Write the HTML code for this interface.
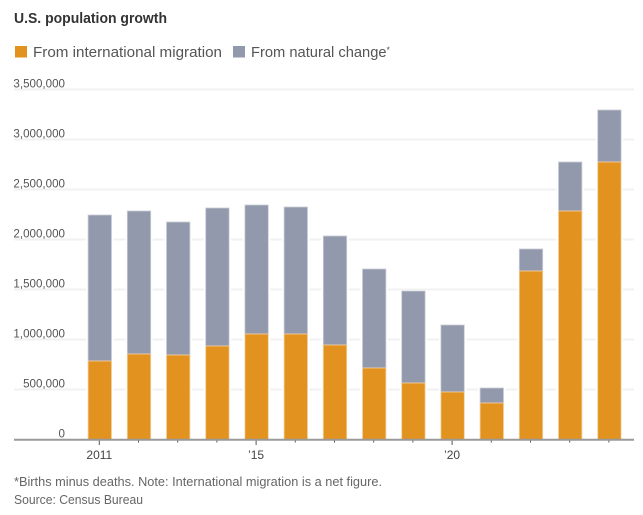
<!DOCTYPE html>
<html lang="en">
<head>
<meta charset="utf-8">
<title>U.S. population growth</title>
<style>
html,body{margin:0;padding:0;background:#fff;width:643px;height:515px;overflow:hidden}
svg{display:block;font-family:"Liberation Sans",sans-serif}
</style>
</head>
<body>
<svg id="chart" width="643" height="515" viewBox="0 0 643 515" xmlns="http://www.w3.org/2000/svg">
  <text x="14" y="23" font-size="14.5" font-weight="bold" fill="#333" textLength="153" lengthAdjust="spacingAndGlyphs">U.S. population growth</text>
  <rect x="15" y="46" width="12" height="11.5" fill="#e2931f"/>
  <text x="33" y="57" font-size="15" fill="#555" textLength="189" lengthAdjust="spacingAndGlyphs">From international migration</text>
  <rect x="233" y="46" width="12" height="11.5" fill="#9399ac"/>
  <text x="251" y="57" font-size="15" fill="#555" textLength="139" lengthAdjust="spacingAndGlyphs">From natural change<tspan font-size="9" dy="-4">*</tspan></text>
  <g id="grid"></g>
  <g id="bars"></g>
  <g id="axis"></g>
  <text x="14" y="486" font-size="12.5" fill="#666" textLength="368" lengthAdjust="spacingAndGlyphs">*Births minus deaths. Note: International migration is a net figure.</text>
  <text x="14" y="504" font-size="12.5" fill="#666" textLength="129" lengthAdjust="spacingAndGlyphs">Source: Census Bureau</text>
</svg>
<script>
const years = [2011,2012,2013,2014,2015,2016,2017,2018,2019,2020,2021,2022,2023,2024];
const migration = [785000,855000,845000,935000,1055000,1055000,945000,715000,565000,475000,365000,1685000,2285000,2775000];
const naturalChange = [1460000,1430000,1330000,1380000,1290000,1270000,1090000,990000,920000,670000,150000,220000,490000,520000];
const yTicks = [0,500000,1000000,1500000,2000000,2500000,3000000,3500000];
const xLabels = {2011:"2011",2015:"\u201915",2020:"\u201920"};

const NS = "http://www.w3.org/2000/svg";
const y = v => 439.5 - v / 10000;
const x = i => 99.8 + i * 39.2;
const barW = 23.4;
function mk(tag, parent, attrs){
  const el = document.createElementNS(NS, tag);
  for (const k in attrs) el.setAttribute(k, attrs[k]);
  parent.appendChild(el);
  return el;
}
const grid = document.getElementById("grid");
const bars = document.getElementById("bars");
const axis = document.getElementById("axis");

yTicks.forEach(t => {
  if (t > 0) {
    const line = mk("line", grid, {x1:14, x2:634, y1:y(t), y2:y(t), stroke:"#f1f1f1", "stroke-width":2});
    
    
  }
  const lab = mk("text", grid, {x:65, y:y(t)-2, "text-anchor":"end", "font-size":11.6, fill:"#555"});
  
  
  lab.textContent = t.toLocaleString("en-US");
});

years.forEach((yr, i) => {
  const m = migration[i], n = naturalChange[i];
  const halo = mk("rect", bars, {x:x(i)-barW/2-2, y:y(m+n)-1, width:barW+4, height:y(0)-y(m+n)+1, fill:"#fff"});
  
  
  const top = mk("rect", bars, {x:x(i)-barW/2, y:y(m+n), width:barW, height:y(m)-y(m+n), fill:"#9399ac", stroke:"#c9ccd6", "stroke-width":0.8});
  
  
  const bot = mk("rect", bars, {x:x(i)-barW/2, y:y(m), width:barW, height:y(0)-y(m), fill:"#e2931f", stroke:"#f3cf9f", "stroke-width":0.8});
  
  

  const major = yr in xLabels;
  const tick = mk("line", axis, {x1:x(i)-0.5, x2:x(i)-0.5, y1:440, y2:major?445:442.5, stroke:"#555", "stroke-width":1});
  
  
  if (major) {
    const lab = mk("text", axis, {x:x(i)-0.5, y:459, "text-anchor":"middle", "font-size":12, fill:"#444"});
    
    
    lab.textContent = xLabels[yr];
  }
});
const base = mk("line", axis, {x1:14, x2:634, y1:439.7, y2:439.7, stroke:"#999", "stroke-width":2});


</script>
</body>
</html>
